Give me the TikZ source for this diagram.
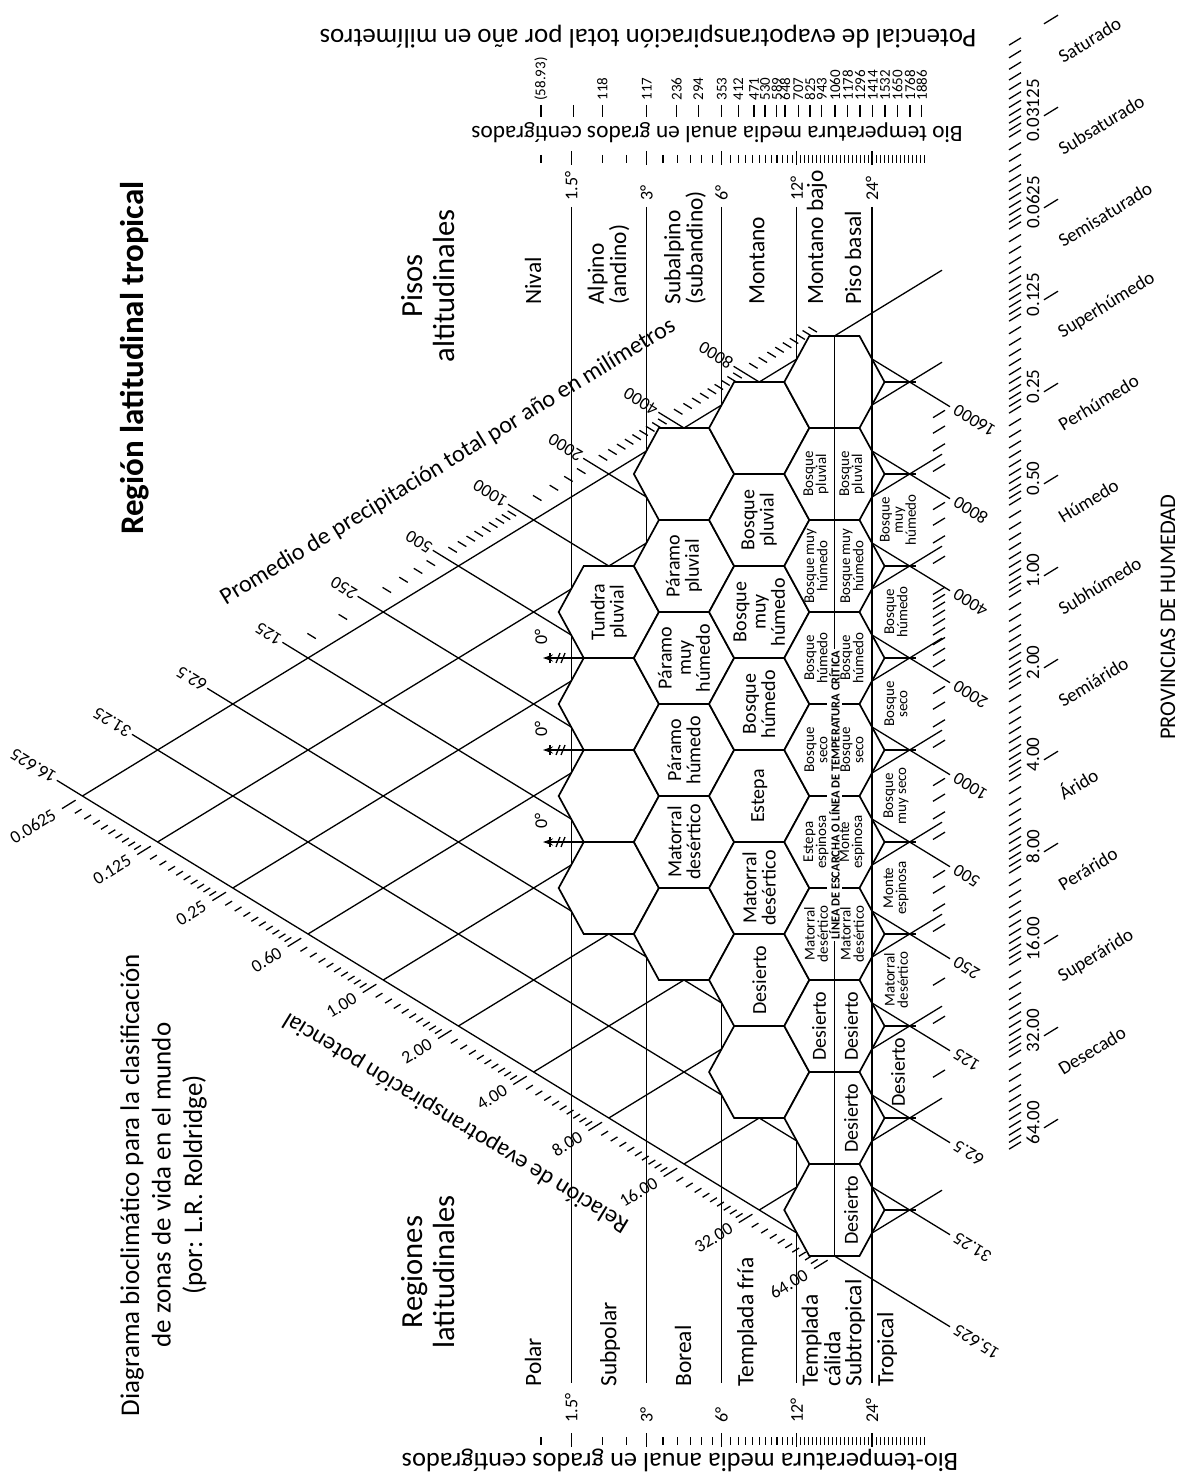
\documentclass[tikz,border=0pt]{standalone}
\usepackage{fontspec}
\setmainfont{Carlito}
\usetikzlibrary{arrows.meta}

\tikzset{
  linea/.style={line width=0.65pt},
  hexa/.style={draw, fill=white, line width=0.85pt},
  zona/.style={font=\fontsize{10}{9.6}\selectfont, align=center, rotate=90, inner sep=0pt},
  zonita/.style={font=\fontsize{7.5}{6.6}\selectfont, align=center, rotate=90, inner sep=0pt},
  region/.style={font=\fontsize{11.7}{11.2}\selectfont, align=left, rotate=90, anchor=west, inner sep=0pt},
  cifra/.style={font=\fontsize{9}{9}\selectfont, inner sep=1pt},
  grado/.style={font=\fontsize{9}{9}\selectfont, rotate=90, anchor=west, inner sep=0pt},
  potencial/.style={font=\fontsize{7.5}{7.5}\selectfont, rotate=90, anchor=west, inner sep=0pt},
  eje/.style={font=\fontsize{12}{12}\selectfont, inner sep=0pt},
}

\newcommand{\hexagono}[2]{%
  \filldraw[hexa] ({#1-50.13},#2) -- ({#1-25.07},{#2-46}) -- ({#1+25.07},{#2-46})
    -- ({#1+50.13},#2) -- ({#1+25.07},{#2+46}) -- ({#1-25.07},{#2+46}) -- cycle;}
\newcommand{\finos}{0.1375,0.263,0.379,0.485,0.585,0.678,0.766,0.848,0.926}
\newcommand{\medios}{0.263,0.485,0.678,0.848}

\begin{document}
\begin{tikzpicture}[x=0.5pt, y=-0.5pt]
  \useasboundingbox (0,0) rectangle (1181,1475);

  % Precipitation lines (15.625 ... 16000)
  \foreach \j in {0,...,10}
    \draw[linea] ({82.4+75.2*\j},{796-46*\j}) -- (950,{1326.7-92*\j});
  \foreach \j in {0,...,9}
    \draw[linea] ({82.4+75.2*\j},{796-46*\j}) -- ++(-25.6,-15.7);
  % Evapotranspiration ratio lines (0.0625 ... 64)
  \foreach \i in {0,...,10}
    \draw[linea] ({82.4+75.2*\i},{796+46*\i}) -- (942,{270.2+92*\i});
  % Temperature lines
  \foreach \x in {571.2,646.4,721.6,796.8}
    \draw[linea] (\x,207) -- (\x,1383);

  % Hexagons
  \foreach \y in {612,704,...,888} {\hexagono{608.8}{\y}}
  \foreach \y in {474,566,...,934} {\hexagono{684}{\y}}
  \foreach \y in {428,520,...,1072} {\hexagono{759.2}{\y}}
  \foreach \y in {382,474,...,1210} {\hexagono{834.4}{\y}}
  \foreach \y in {382,474,...,1210}
    \draw[linea] (884.53,\y) -- (916,\y);

  % 24 degree line and frost line
  \draw[linea] (872,207) -- (872,1383);
  \draw[linea] (834.4,336) -- (834.4,1256);
  \node[rotate=90, fill=white, inner sep=1pt, font=\bfseries\fontsize{6.2}{6.2}\selectfont]
    (critica) at (834.4,795) {LÍNEA DE ESCARCHA O LÍNEA DE TEMPERATURA CRÍTICA};

  % Frost marks
  \foreach \y in {658,750,842} {
    \draw[linea,-{Stealth[length=5pt,width=3.5pt]}] (583.9,\y) -- (543,\y);
    \draw[linea] (550,{\y-5}) -- (550,{\y+5});
    \draw[linea] (556,{\y+5}) -- (560,{\y-5});
    \draw[linea] (561,{\y+5}) -- (565,{\y-5});
    \node[cifra, rotate=90] at (541,{\y-21}) {0°};
  }

  % Life zones
  \node[zona] (tundra) at (608.8,612) {Tundra\\pluvial};
  \node[zona] (parpl) at (684,566) {Páramo\\pluvial};
  \node[zona] (parmh) at (684,658) {Páramo\\muy\\húmedo};
  \node[zona] (parh) at (684,750) {Páramo\\húmedo};
  \node[zona] (matb) at (684,842) {Matorral\\desértico};
  \node[zona] (bospl) at (759.2,520) {Bosque\\pluvial};
  \node[zona] (bosmh) at (759.2,612) {Bosque\\muy\\húmedo};
  \node[zona] (bosh) at (759.2,704) {Bosque\\húmedo};
  \node[zona] (estepa) at (759.2,796) {Estepa};
  \node[zona] (matc) at (759.2,888) {Matorral\\desértico};
  \node[zona] (desc) at (759.2,980) {Desierto};
  % montano bajo / basal
  \node[zonita] (d1a) at (816,474) {Bosque\\pluvial};
  \node[zonita] (d1b) at (852,474) {Bosque\\pluvial};
  \node[zonita] (d2a) at (816,566) {Bosque muy\\húmedo};
  \node[zonita] (d2b) at (852,566) {Bosque muy\\húmedo};
  \node[zonita] (d3a) at (816,658) {Bosque\\húmedo};
  \node[zonita] (d3b) at (852,658) {Bosque\\húmedo};
  \node[zonita] (d4a) at (816,750) {Bosque\\seco};
  \node[zonita] (d4b) at (852,750) {Bosque\\seco};
  \node[zonita] (d5a) at (816,842) {Estepa\\espinosa};
  \node[zonita] (d5b) at (852,842) {Monte\\espinosa};
  \node[zonita] (d6a) at (816,934) {Matorral\\desértico};
  \node[zonita] (d6b) at (852,934) {Matorral\\desértico};
  \node[zona] (d7a) at (819,1026) {Desierto};
  \node[zona] (d7b) at (851,1026) {Desierto};
  \node[zona] (d8b) at (851,1118) {Desierto};
  \node[zona] (d9b) at (851,1210) {Desierto};
  % tropical
  \node[zonita] (e1) at (898,520) {Bosque\\muy\\húmedo};
  \node[zonita] (e2) at (896,612) {Bosque\\húmedo};
  \node[zonita] (e3) at (896,704) {Bosque\\seco};
  \node[zonita] (e4) at (896,796) {Bosque\\muy seco};
  \node[zonita] (e5) at (896,888) {Monte\\espinosa};
  \node[zonita] (e6) at (896,980) {Matorral\\desértico};
  \node[zona] (e7) at (898,1072) {Desierto};

  % Precipitation scale (upper left)
  \foreach \f in {0.263,0.678}
    \draw[linea] ({82.4+75.2*(3+\f)-11.9},{796-46*(3+\f)-7.3}) -- ++(-8.5,-5.2);
  \foreach \j in {4,6} {\foreach \f in \medios
    \draw[linea] ({82.4+75.2*(\j+\f)-11.9},{796-46*(\j+\f)-7.3}) -- ++(-8.5,-5.2);}
  \foreach \j in {5,7,8,9} {\foreach \f in \finos
    \draw[linea] ({82.4+75.2*(\j+\f)-11.9},{796-46*(\j+\f)-7.3}) -- ++(-8.5,-5.2);}
  \foreach \j/\t in {0/16.625,1/31.25,2/62.5,3/125,4/250,5/500,6/1000,7/2000,8/4000,9/8000}
    \node[cifra, anchor=west, rotate=148.55] at ({82.4+75.2*\j-25.6},{796-46*\j-15.7}) {\t};
  \node[eje, rotate=31.45] (prec) at (448,462) {Promedio de precipitación total por año en milímetros};

  % Precipitation scale (right)
  \foreach \f in {0.678}
    \draw[linea] (933,{1320-92*2-92*\f+3.67}) -- ++(12,-7.34);
  \foreach \f in {0.263,0.678}
    \draw[linea] (933,{1320-92*3-92*\f+3.67}) -- ++(12,-7.34);
  \foreach \j in {4,5,6,8,9} {\foreach \f in \medios
    \draw[linea] (933,{1320-92*\j-92*\f+3.67}) -- ++(12,-7.34);}
  \foreach \f in \finos
    \draw[linea] (933,{1320-92*7-92*\f+3.67}) -- ++(12,-7.34);
  \foreach \j/\t in {0/15.625,1/31.25,2/62.5,3/125,4/250,5/500,6/1000,7/2000,8/4000,9/8000,10/16000}
    \node[cifra, anchor=east, rotate=148.55] at (953,{1327.7-92*\j}) {\t};

  % Evapotranspiration ratio scale (lower left)
  \foreach \i in {0,...,9} {\foreach \f in \finos
    \draw[linea] ({82.4+75.2*(\i+\f)-11.1},{796+46*(\i+\f)+6.8}) -- ++(-6.8,4.2);}
  \foreach \i in {0,...,10}
    \draw[linea] ({82.4+75.2*\i-6.8},{796+46*\i+4.2}) -- ++(-13.6,8.4);
  \foreach \i/\t in {0/0.0625,1/0.125,2/0.25,3/0.60,4/1.00,5/2.00,6/4.00,7/8.00,8/16.00,9/32.00,10/64.00}
    \node[cifra, anchor=east, rotate=31.45] at ({82.4+75.2*\i-26},{796+46*\i+16}) {\t};
  \node[eje, rotate=148.55] (relacion) at (456,1122) {Relación de evapotranspiración potencial};

  % Humidity provinces (right)
  \foreach \i in {-2,...,9} {\foreach \f in {0,0.1375,0.263,0.379,0.485,0.585,0.678,0.766,0.848,0.926}
    \draw[linea] (1009,{225.5+92*(\i+\f)+3.67}) -- ++(12,-7.34);}
  \draw[linea] (1009,{225.5+92*10+3.67}) -- ++(12,-7.34);
  \foreach \i in {-2,...,10}
    \draw[linea] (1044,{207.8+92*\i}) -- (1058,{199.2+92*\i});
  \foreach \i/\t in {-1/0.03125,0/0.0625,1/0.125,2/0.25,3/0.50,4/1.00,5/2.00,6/4.00,7/8.00,8/16.00,9/32.00,10/64.00}
    \node[cifra, rotate=90, font=\fontsize{9.5}{9.5}\selectfont] at (1033,{202.5+92*\i}) {\t};
  \foreach \i/\t in {-2/Saturado,-1/Subsaturado,0/Semisaturado,1/Superhúmedo,2/Perhúmedo,3/Húmedo,4/Subhúmedo,5/Semiárido,6/Árido,7/Perárido,8/Superárido,9/Desecado}
    \node[cifra, anchor=west, rotate=31.45, font=\fontsize{9.5}{9.5}\selectfont] at (1058,{243.4+92*\i}) {\t};
  \node[rotate=90, font=\fontsize{11.2}{11.2}\selectfont] (provincias) at (1168,617) {PROVINCIAS DE HUMEDAD};

  % Temperature scale (top)
  \node[rotate=180, font=\fontsize{13.5}{13.5}\selectfont] (potevap) at (648,37)
    {Potencial de evapotranspiración total por año en milímetros};
  \foreach \x/\t in {541/{(58.93)},602.3/118,646.7/117,676.7/236,698.3/294,721.7/353,738.3/412,754/471,765/530,776.7/589,785/648,798.3/707,810/825,821.7/943,835/1060,847.7/1178,860/1296,872.7/1414,885/1532,897.3/1650,910/1768,921.7/1886}
    {\draw[linea] (\x,105) -- (\x,117);
     \node[potencial] at (\x,101) {\t};}
  \draw[linea] (573.3,105) -- (573.3,117);
  \node[rotate=180, font=\fontsize{11.7}{11.7}\selectfont] (biotop) at (717,133)
    {Bio temperatura media anual en grados centígrados};
  \draw[linea] (541,155) -- (541,163);
  \foreach \t in {2,2.5,...,11.5}
    \draw[linea] ({571.2+75.2*ln(\t/1.5)/ln(2)},155) -- ++(0,8);
  \foreach \x in {800.8,804.8,...,924.8}
    \draw[linea] (\x,155) -- ++(0,8);
  \foreach \x in {571.2,646.4,721.6,796.8,872}
    \draw[linea] (\x,151) -- ++(0,14);
  \foreach \x/\t in {571.2/1.5°,646.4/3°,721.6/6°,796.8/12°,872/24°}
    \node[grado] at (\x,201) {\t};

  % Temperature scale (bottom)
  \draw[linea] (541,1437) -- (541,1445);
  \foreach \t in {2,2.5,...,11.5}
    \draw[linea] ({571.2+75.2*ln(\t/1.5)/ln(2)},1437) -- ++(0,8);
  \foreach \x in {800.8,804.8,...,924.8}
    \draw[linea] (\x,1437) -- ++(0,8);
  \foreach \x in {571.2,646.4,721.6,796.8,872}
    \draw[linea] (\x,1433) -- ++(0,14);
  \foreach \x/\t in {571.2/1.5°,646.4/3°,721.6/6°,796.8/12°,872/24°}
    \node[grado] at (\x,1423) {\t};
  \node[rotate=180, font=\fontsize{13.2}{13.2}\selectfont] (biobot) at (680,1460)
    {Bio-temperatura media anual en grados centígrados};

  % Altitudinal floors (top) and latitudinal regions (bottom)
  \node[region] (nival) at (533,305) {Nival};
  \node[region] (alpino) at (608.5,305) {Alpino\\(andino)};
  \node[region] (subalp) at (685,305) {Subalpino\\(subandino)};
  \node[region] (montano) at (757,305) {Montano};
  \node[region] (montbajo) at (817,305) {Montano bajo};
  \node[region] (basal) at (853,305) {Piso basal};
  \node[region] (polar) at (533,1387) {Polar};
  \node[region] (subpolar) at (610,1387) {Subpolar};
  \node[region] (boreal) at (683,1387) {Boreal};
  \node[region] (tfria) at (747,1387) {Templada fría};
  \node[region] (tcalida) at (821,1387) {Templada\\cálida};
  \node[region] (subtrop) at (855,1387) {Subtropical};
  \node[region] (tropical) at (887,1387) {Tropical};

  % Titles
  \node[rotate=90, font=\bfseries\fontsize{16.5}{16.5}\selectfont] (titulo) at (135,358)
    {Región latitudinal tropical};
  \node[rotate=90, align=center, font=\fontsize{15.3}{16}\selectfont] (pisos) at (428,286)
    {Pisos\\altitudinales};
  \node[rotate=90, align=center, font=\fontsize{15.3}{16}\selectfont] (regiones) at (428,1272)
    {Regiones\\latitudinales};
  \node[rotate=90, align=center, font=\fontsize{13.5}{15.75}\selectfont] (diagrama) at (163.5,1185)
    {Diagrama bioclimático para la clasificación\\de zonas de vida en el mundo\\(por: L.R. Roldridge)};
\end{tikzpicture}
\end{document}
